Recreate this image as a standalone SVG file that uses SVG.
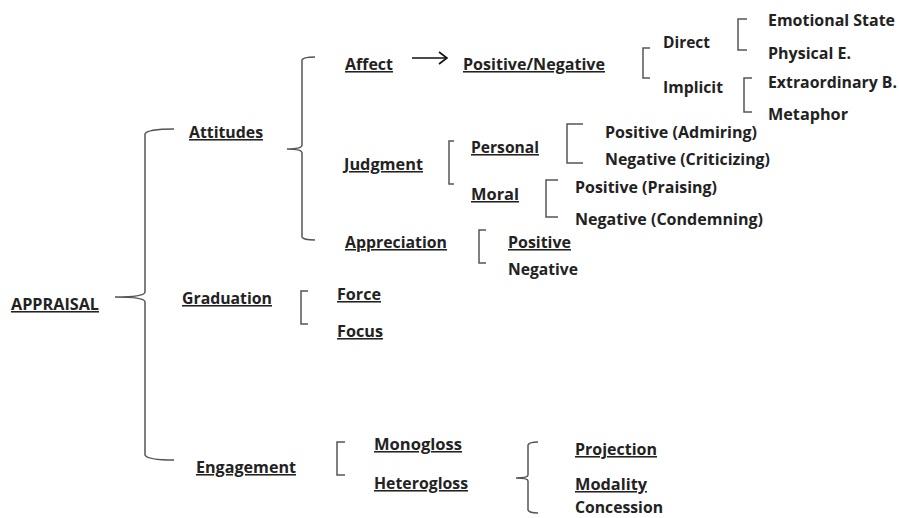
<svg xmlns="http://www.w3.org/2000/svg" width="899" height="518" viewBox="0 0 899 518">
<defs>
<style>
text{font-family:"Open Sans","Liberation Sans",sans-serif;font-weight:700;font-size:15.5px;fill:#222;}
.u{text-decoration:underline;}
.br{fill:none;stroke:#555;stroke-width:1.5;}
.ar{fill:none;stroke:#111;stroke-width:1.6;}
</style>
<marker id="chev" viewBox="0 0 10 14" refX="9" refY="7" markerWidth="10" markerHeight="14" markerUnits="userSpaceOnUse" orient="auto">
<path d="M1,1 L9,7 L1,13" fill="none" stroke="#111" stroke-width="1.6"/>
</marker>
</defs>
<rect width="899" height="518" fill="#fff"/>
<g id="connectors">
<path class="br" d="M174,129 Q147,129 145,134 L145,292 Q145,297 115,297 Q145,297 145,302 L145,455 Q147,460 174,460"/>
<path class="br" d="M315,57 Q303,57 302,60 L302,145 Q302,149 287,149 Q302,149 302,153 L302,237 Q303,240 315,240"/>
<path class="br" d="M650,48 L643,48 L643,78 L650,78"/>
<path class="br" d="M747,19 L738,19 L738,50 L747,50"/>
<path class="br" d="M752,78 L744,78 L744,112 L752,112"/>
<path class="br" d="M454,141 L449,141 L449,184 L454,184"/>
<path class="br" d="M583,124 L567,124 L567,163 L583,163"/>
<path class="br" d="M558,180 L546,180 L546,217 L558,217"/>
<path class="br" d="M486,230 L479,230 L479,263 L486,263"/>
<path class="br" d="M308,291 L301,291 L301,324 L308,324"/>
<path class="br" d="M345,442 L337,442 L337,475 L345,475"/>
<path class="br" d="M538,442 Q529,442 528,445 L528,475 Q528,478 516,478 Q528,478 528,481 L528,510 Q529,513 538,513"/>
<line class="ar" x1="412" y1="58" x2="447" y2="58" marker-end="url(#chev)"/>
</g>
<g id="appraisal"><text class="u" x="11" y="310" textLength="88" lengthAdjust="spacingAndGlyphs">APPRAISAL</text></g>
<g id="attitudes"><text class="u" x="189" y="138" textLength="74" lengthAdjust="spacingAndGlyphs">Attitudes</text></g>
<g id="graduation"><text class="u" x="182" y="304" textLength="90" lengthAdjust="spacingAndGlyphs">Graduation</text></g>
<g id="engagement"><text class="u" x="196" y="473" textLength="100" lengthAdjust="spacingAndGlyphs">Engagement</text></g>
<g id="affect"><text class="u" x="345" y="70" textLength="48" lengthAdjust="spacingAndGlyphs">Affect</text></g>
<g id="posneg"><text class="u" x="463" y="70" textLength="142" lengthAdjust="spacingAndGlyphs">Positive/Negative</text></g>
<g id="direct"><text x="663" y="48" textLength="47" lengthAdjust="spacingAndGlyphs">Direct</text></g>
<g id="implicit"><text x="663" y="93" textLength="60" lengthAdjust="spacingAndGlyphs">Implicit</text></g>
<g id="emotional"><text x="768" y="26" textLength="127" lengthAdjust="spacingAndGlyphs">Emotional State</text></g>
<g id="physical"><text x="768" y="59" textLength="83" lengthAdjust="spacingAndGlyphs">Physical E.</text></g>
<g id="extraordinary"><text x="768" y="88" textLength="129" lengthAdjust="spacingAndGlyphs">Extraordinary B.</text></g>
<g id="metaphor"><text x="768" y="120" textLength="80" lengthAdjust="spacingAndGlyphs">Metaphor</text></g>
<g id="judgment"><text class="u" x="344" y="170" textLength="79" lengthAdjust="spacingAndGlyphs">Judgment</text></g>
<g id="personal"><text class="u" x="471" y="153" textLength="68" lengthAdjust="spacingAndGlyphs">Personal</text></g>
<g id="moral"><text class="u" x="471" y="200" textLength="48" lengthAdjust="spacingAndGlyphs">Moral</text></g>
<g id="pos-admiring"><text x="605" y="138" textLength="152" lengthAdjust="spacingAndGlyphs">Positive (Admiring)</text></g>
<g id="neg-criticizing"><text x="605" y="165" textLength="165" lengthAdjust="spacingAndGlyphs">Negative (Criticizing)</text></g>
<g id="pos-praising"><text x="575" y="193" textLength="142" lengthAdjust="spacingAndGlyphs">Positive (Praising)</text></g>
<g id="neg-condemning"><text x="575" y="225" textLength="188" lengthAdjust="spacingAndGlyphs">Negative (Condemning)</text></g>
<g id="appreciation"><text class="u" x="345" y="248" textLength="102" lengthAdjust="spacingAndGlyphs">Appreciation</text></g>
<g id="app-positive"><text class="u" x="508" y="248" textLength="63" lengthAdjust="spacingAndGlyphs">Positive</text></g>
<g id="app-negative"><text x="508" y="275" textLength="70" lengthAdjust="spacingAndGlyphs">Negative</text></g>
<g id="force"><text class="u" x="337" y="300" textLength="44" lengthAdjust="spacingAndGlyphs">Force</text></g>
<g id="focus"><text class="u" x="337" y="337" textLength="46" lengthAdjust="spacingAndGlyphs">Focus</text></g>
<g id="monogloss"><text class="u" x="374" y="450" textLength="88" lengthAdjust="spacingAndGlyphs">Monogloss</text></g>
<g id="heterogloss"><text class="u" x="374" y="489" textLength="94" lengthAdjust="spacingAndGlyphs">Heterogloss</text></g>
<g id="projection"><text class="u" x="575" y="455" textLength="82" lengthAdjust="spacingAndGlyphs">Projection</text></g>
<g id="modality"><text class="u" x="575" y="490" textLength="72" lengthAdjust="spacingAndGlyphs">Modality</text></g>
<g id="concession"><text x="575" y="513" textLength="88" lengthAdjust="spacingAndGlyphs">Concession</text></g>
</svg>
